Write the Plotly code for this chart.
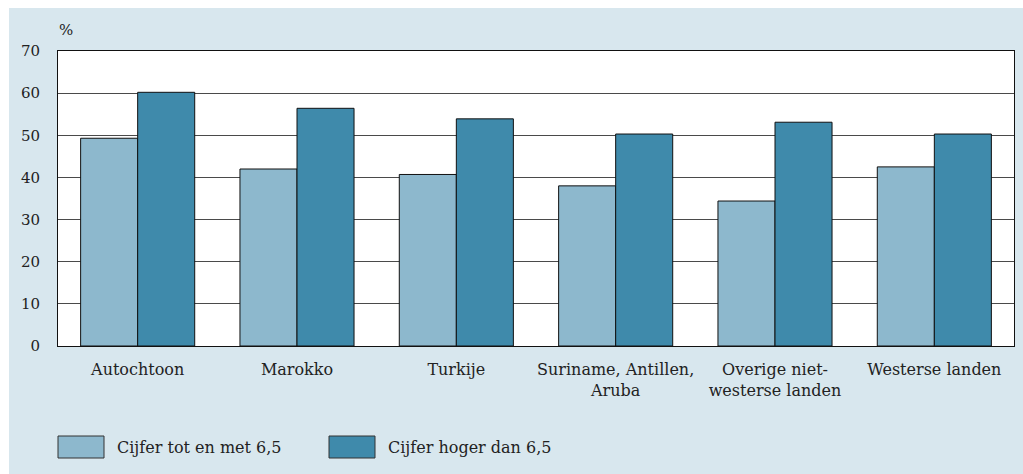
import plotly.graph_objects as go

# Categories and percentages per group
categories = [
    "Autochtoon",
    "Marokko",
    "Turkije",
    "Suriname, Antillen,<br>Aruba",
    "Overige niet-<br>westerse landen",
    "Westerse landen",
]
series_names = ["Cijfer tot en met 6,5", "Cijfer hoger dan 6,5"]
low_grade = [49.3, 42.0, 40.7, 38.0, 34.4, 42.5]
high_grade = [60.2, 56.4, 53.9, 50.3, 53.1, 50.3]
y_ticks = [0, 10, 20, 30, 40, 50, 60, 70]

colors = ["#8db8cd", "#3f8aab"]
panel_bg = "#d8e7ee"
font_family = "DejaVu Serif"
fsize = 16

W, H = 1023, 474
margin = dict(l=58, r=9, t=51, b=128)

fig = go.Figure()
for name, vals, col in zip(series_names, [low_grade, high_grade], colors):
    fig.add_trace(go.Bar(
        x=categories, y=vals, name=name,
        marker=dict(color=col, line=dict(color="#111111", width=1)),
        showlegend=False,
    ))

# Helpers to convert pixel positions into paper coordinates
pw = W - margin["l"] - margin["r"]
ph = H - margin["t"] - margin["b"]
def px(x):
    return (x - margin["l"]) / pw
def py(y):
    return (H - margin["b"] - y) / ph

shapes = [
    # white strip above the panel
    dict(type="rect", xref="paper", yref="paper", x0=px(0), x1=px(W), y0=py(8), y1=py(0),
         fillcolor="white", line=dict(width=0), layer="below"),
    # white strip to the left of the panel
    dict(type="rect", xref="paper", yref="paper", x0=px(0), x1=px(9), y0=py(H), y1=py(0),
         fillcolor="white", line=dict(width=0), layer="below"),
]
annotations = [
    dict(text="%", xref="paper", yref="paper", x=px(57), y=py(30), xanchor="left",
         yanchor="middle", showarrow=False, font=dict(size=15, color="#222", family=font_family)),
]

# Custom legend swatches
legend_x = [58, 329]
for name, col, lx in zip(series_names, colors, legend_x):
    shapes.append(dict(type="rect", xref="paper", yref="paper",
                       x0=px(lx), x1=px(lx + 46), y0=py(458), y1=py(436),
                       fillcolor=col, line=dict(color="#333", width=1)))
    annotations.append(dict(text=name, xref="paper", yref="paper", x=px(lx + 57), y=py(448),
                            xanchor="left", yanchor="middle", showarrow=False,
                            font=dict(size=fsize, color="#222", family=font_family)))

fig.update_layout(
    width=W, height=H, margin=margin,
    paper_bgcolor=panel_bg, plot_bgcolor="white",
    barmode="group", bargap=0.284, bargroupgap=0,
    font=dict(family=font_family, size=fsize, color="#222"),
    shapes=shapes, annotations=annotations,
    xaxis=dict(showline=True, linecolor="#111", linewidth=1, mirror=True,
               ticks="", ticklabelstandoff=9,
               tickfont=dict(size=fsize, family=font_family, color="#222")),
    yaxis=dict(range=[0, 70], tickvals=y_ticks, showline=True, linecolor="#111",
               linewidth=1, mirror=True, ticks="", showgrid=True, gridcolor="#4a4a4a",
               gridwidth=1.2, zeroline=False, ticklabelstandoff=14,
               tickfont=dict(size=15, family=font_family, color="#222")),
)

fig.write_html("out.html")
